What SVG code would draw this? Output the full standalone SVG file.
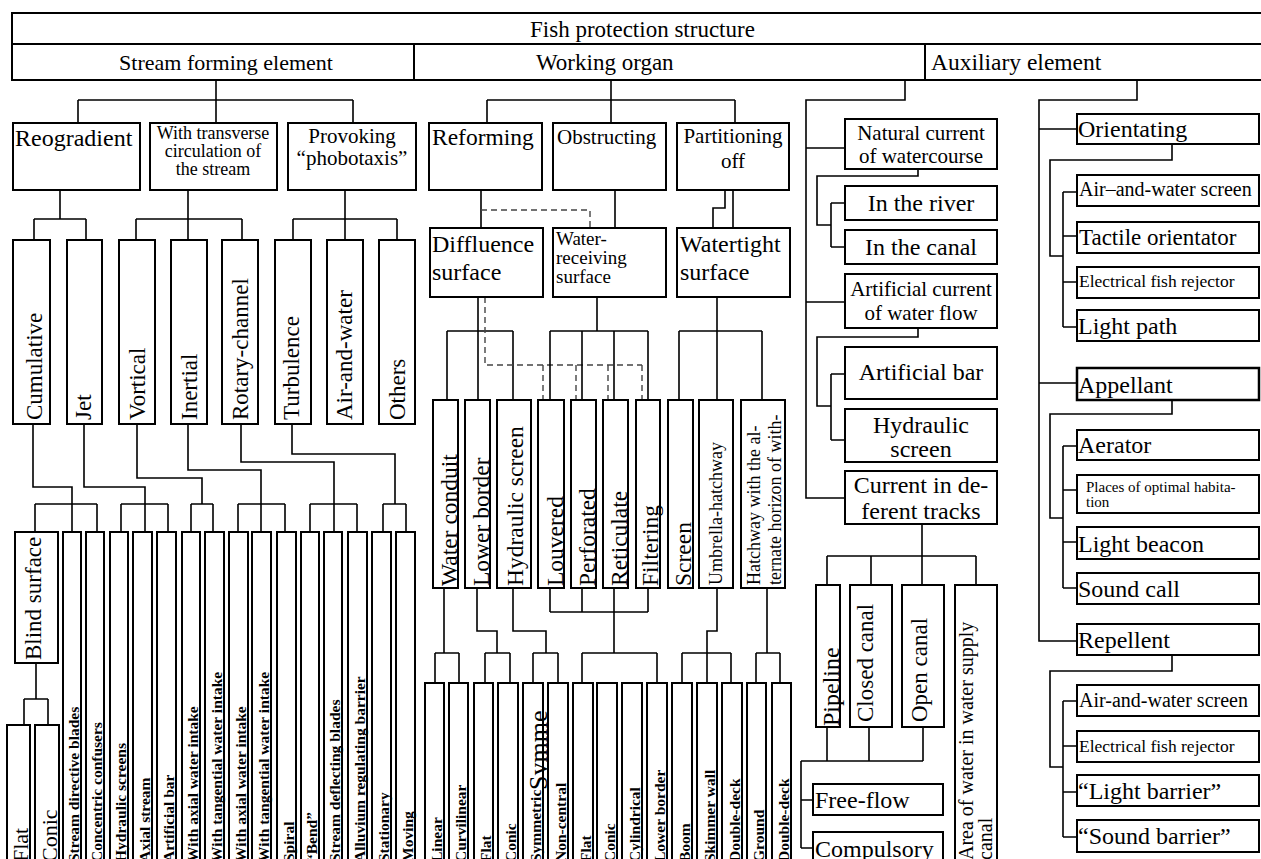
<svg xmlns="http://www.w3.org/2000/svg" width="1261" height="859" viewBox="0 0 1261 859">
<style>
rect{fill:#fff;stroke:#000;stroke-width:2}
.c path{fill:none;stroke:#000;stroke-width:1.6}
.c path.d{stroke:#444;stroke-width:1.4;stroke-dasharray:6 4}
text{font-family:"Liberation Serif","Times New Roman",serif;fill:#000;font-size:23px}
.m{text-anchor:middle}
.b{font-weight:bold;font-size:15.5px}
.s18{font-size:18px}
.s19{font-size:19px}
.s20{font-size:20px}
.s21{font-size:21px}
.s17{font-size:17.5px}
.s15{font-size:15px}
.s24{font-size:24px}
</style>
<defs>
<clipPath id="symclip"><rect x="524" y="683" width="24" height="180"/></clipPath>
</defs>
<rect x="0" y="0" width="1261" height="859" style="fill:#fff;stroke:none"/>

<g class="c" id="connectors">
<path d="M216 80V100M78 100H353M78 100V123M216 100V123M353 100V123"/>
<path d="M60 190V219M34 219H86M34 219V240M86 219V240"/>
<path d="M188 190V219M136 219H242M136 219V240M188 219V240M242 219V240"/>
<path d="M345 190V219M293 219H397M293 219V240M345 219V240M397 219V240"/>
<path d="M33 424V487H72V532M84 424V487H145V532M137 424V478H202V504M188 424V470H261V532M241 424V462H334V532M292 424V454H395V504"/>
<path d="M35 504H97M35 504V532M97 504V532M121 504H168M121 504V532M168 504V532M191 504H213M191 504V532M213 504V532M238 504H285M238 504V532M285 504V532M310 504H357M310 504V532M357 504V532M383 504H406M383 504V532M406 504V532"/>
<path d="M36 663V699M24 699H48M24 699V725M48 699V725"/>
<path d="M611 80V100M487 100H735M487 100V123M611 100V123M735 100V123"/>
<path d="M481 190V228M615 190V228M725 190V208H713V228M733 190V228"/>
<path class="d" d="M481 210H590V228"/>
<path d="M478 297V331M447 331H513M447 331V400M478 331V400M513 331V400"/>
<path class="d" d="M485 297V365H642M543 365V400M576 365V400M608 365V400M642 365V400"/>
<path d="M597 297V331M550 331H648M550 331V400M582 331V400M614 331V400M648 331V400"/>
<path d="M717 297V331M679 331H762M679 331V400M717 331V400M762 331V400"/>
<path d="M444 588V653M435 653H459M435 653V683M459 653V683"/>
<path d="M477 588V631H497V653M485 653H510M485 653V683M510 653V683"/>
<path d="M513 588V631H546V653M533 653H558M533 653V683M558 653V683"/>
<path d="M550 588V612M582 588V612M648 588V612M550 612H648M614 588V653M582 653H657M582 653V683M657 653V683"/>
<path d="M717 588V631H707V653M682 653H731M682 653V683M707 653V683M731 653V683"/>
<path d="M767 588V653M756 653H780M756 653V683M780 653V683"/>
<path d="M905 80V100H806V498H845M806 148H845M806 302H845"/>
<path d="M918 169V176H817V225H831M831 203V247M831 203H845M831 247H845"/>
<path d="M918 328V337H817V406H831M831 374V440M831 374H845M831 440H845"/>
<path d="M922 524V585M827 556H976M827 556V585M871 556V585M976 556V585"/>
<path d="M827 727V761M869 727V761M923 727V761M801 761H923M801 761V848M801 800H813M801 848H813"/>
<path d="M1137 80V100H1039V641H1077M1039 129H1077M1039 383H1077"/>
<path d="M1172 144V160H1050V256H1063M1063 192V327M1063 192H1077M1063 236H1077M1063 282H1077M1063 327H1077"/>
<path d="M1172 400V414H1050V518H1063M1063 446V588M1063 446H1077M1063 490H1077M1063 542H1077M1063 588H1077"/>
<path d="M1172 655V671H1050V767H1063M1063 701V837M1063 701H1077M1063 746H1077M1063 792H1077M1063 837H1077"/>
</g>

<g id="n-root"><rect x="12" y="13" width="1260" height="31"/><text x="530" y="37" style="font-size:23px">Fish protection structure</text></g>
<g id="n-stream"><rect x="12" y="44" width="402" height="36"/><text x="226" y="70" class="m" style="font-size:22px">Stream forming element</text></g>
<g id="n-working"><rect x="414" y="44" width="511" height="36"/><text x="536" y="70" style="font-size:23px">Working organ</text></g>
<g id="n-aux"><rect x="925" y="44" width="340" height="36"/><text x="931" y="70" style="font-size:23.5px">Auxiliary element</text></g>

<g id="n-reogradient"><rect x="13" y="123" width="127" height="67"/><text x="15" y="146" class="s24">Reogradient</text></g>
<g id="n-transverse"><rect x="150" y="123" width="127" height="67"/><text x="213" y="139" class="m s18">With transverse</text><text x="213" y="157" class="m s18">circulation of</text><text x="213" y="175" class="m s18">the stream</text></g>
<g id="n-provoking"><rect x="288" y="123" width="128" height="67"/><text x="352" y="143" class="m s21">Provoking</text><text x="352" y="165" class="m s21">“phobotaxis”</text></g>

<g id="n-cumulative"><rect x="13" y="240" width="37" height="184"/><text x="42" y="420" transform="rotate(-90 42 420)">Cumulative</text></g>
<g id="n-jet"><rect x="67" y="240" width="35" height="184"/><text x="91" y="420" transform="rotate(-90 91 420)">Jet</text></g>
<g id="n-vortical"><rect x="119" y="240" width="36" height="184"/><text x="145" y="420" transform="rotate(-90 145 420)">Vortical</text></g>
<g id="n-inertial"><rect x="171" y="240" width="36" height="184"/><text x="197" y="420" transform="rotate(-90 197 420)">Inertial</text></g>
<g id="n-rotary"><rect x="222" y="240" width="36" height="184"/><text x="248" y="420" transform="rotate(-90 248 420)">Rotary-channel</text></g>
<g id="n-turbulence"><rect x="275" y="240" width="36" height="184"/><text x="299" y="420" transform="rotate(-90 299 420)">Turbulence</text></g>
<g id="n-airwater"><rect x="327" y="240" width="36" height="184"/><text x="352" y="420" transform="rotate(-90 352 420)">Air-and-water</text></g>
<g id="n-others"><rect x="379" y="240" width="36" height="184"/><text x="405" y="420" transform="rotate(-90 405 420)">Others</text></g>

<g id="n-blind"><rect x="15" y="532" width="43" height="131"/><text x="41" y="660" transform="rotate(-90 41 660)">Blind surface</text></g>
<g id="n-flat1"><rect x="7" y="725" width="23" height="150"/><text x="28" y="862" transform="rotate(-90 28 862)" style="font-size:22px">Flat</text></g>
<g id="n-conic1"><rect x="35" y="725" width="24" height="150"/><text x="57" y="862" transform="rotate(-90 57 862)" style="font-size:22px">Conic</text></g>

<g id="n-sdb"><rect x="63" y="532" width="18" height="340"/><text x="79" y="862" class="b" transform="rotate(-90 79 862)">Stream directive blades</text></g>
<g id="n-cc"><rect x="86" y="532" width="18" height="340"/><text x="102" y="862" class="b" transform="rotate(-90 102 862)">Concentric confusers</text></g>
<g id="n-hs"><rect x="110" y="532" width="18" height="340"/><text x="126" y="862" class="b" transform="rotate(-90 126 862)">Hydraulic screens</text></g>
<g id="n-as"><rect x="133" y="532" width="19" height="340"/><text x="150" y="862" class="b" transform="rotate(-90 150 862)">Axial stream</text></g>
<g id="n-ab"><rect x="157" y="532" width="19" height="340"/><text x="174" y="862" class="b" transform="rotate(-90 174 862)">Artificial bar</text></g>
<g id="n-awi1"><rect x="182" y="532" width="18" height="340"/><text x="198" y="862" class="b" transform="rotate(-90 198 862)">With axial water intake</text></g>
<g id="n-twi1"><rect x="205" y="532" width="19" height="340"/><text x="222" y="862" class="b" transform="rotate(-90 222 862)">With tangential water intake</text></g>
<g id="n-awi2"><rect x="229" y="532" width="19" height="340"/><text x="246" y="862" class="b" transform="rotate(-90 246 862)">With axial water intake</text></g>
<g id="n-twi2"><rect x="252" y="532" width="19" height="340"/><text x="269" y="862" class="b" transform="rotate(-90 269 862)">With tangential water intake</text></g>
<g id="n-spiral"><rect x="277" y="532" width="19" height="340"/><text x="294" y="862" class="b" transform="rotate(-90 294 862)">Spiral</text></g>
<g id="n-bend"><rect x="301" y="532" width="18" height="340"/><text x="317" y="862" class="b" transform="rotate(-90 317 862)">“Bend”</text></g>
<g id="n-sdefb"><rect x="324" y="532" width="18" height="340"/><text x="340" y="862" class="b" transform="rotate(-90 340 862)">Stream deflecting blades</text></g>
<g id="n-arb"><rect x="348" y="532" width="19" height="340"/><text x="365" y="862" class="b" transform="rotate(-90 365 862)">Alluvium regulating barrier</text></g>
<g id="n-stat"><rect x="372" y="532" width="19" height="340"/><text x="389" y="862" class="b" transform="rotate(-90 389 862)">Stationary</text></g>
<g id="n-moving"><rect x="396" y="532" width="19" height="340"/><text x="413" y="862" class="b" transform="rotate(-90 413 862)">Moving</text></g>

<g id="n-reforming"><rect x="429" y="123" width="113" height="67"/><text x="432" y="145" style="font-size:23.5px">Reforming</text></g>
<g id="n-obstructing"><rect x="553" y="123" width="113" height="67"/><text x="557" y="144" class="s21">Obstructing</text></g>
<g id="n-partitioning"><rect x="677" y="123" width="112" height="67"/><text x="733" y="143" class="m s21">Partitioning</text><text x="733" y="168" class="m s21">off</text></g>

<g id="n-diffluence"><rect x="430" y="228" width="113" height="69"/><text x="432" y="252" class="s24">Diffluence</text><text x="432" y="280" class="s24">surface</text></g>
<g id="n-waterrec"><rect x="553" y="228" width="113" height="69"/><text x="556" y="245" class="s19">Water-</text><text x="556" y="264" class="s19">receiving</text><text x="556" y="283" class="s19">surface</text></g>
<g id="n-watertight"><rect x="677" y="228" width="113" height="69"/><text x="680" y="252" class="s24">Watertight</text><text x="680" y="280" class="s24">surface</text></g>

<g id="n-wconduit"><rect x="433" y="400" width="25" height="188"/><text x="457" y="586" transform="rotate(-90 457 586)" style="font-size:23.5px">Water conduit</text></g>
<g id="n-lborder"><rect x="465" y="400" width="25" height="188"/><text x="489" y="586" transform="rotate(-90 489 586)" style="font-size:23.5px">Lower border</text></g>
<g id="n-hscreen"><rect x="497" y="400" width="34" height="188"/><text x="523" y="586" transform="rotate(-90 523 586)" style="font-size:23.5px">Hydraulic screen</text></g>
<g id="n-louvered"><rect x="538" y="400" width="26" height="188"/><text x="563" y="586" transform="rotate(-90 563 586)" style="font-size:23.5px">Louvered</text></g>
<g id="n-perforated"><rect x="571" y="400" width="25" height="188"/><text x="595" y="586" transform="rotate(-90 595 586)" style="font-size:23.5px">Perforated</text></g>
<g id="n-reticulate"><rect x="603" y="400" width="25" height="188"/><text x="627" y="586" transform="rotate(-90 627 586)" style="font-size:23.5px">Reticulate</text></g>
<g id="n-filtering"><rect x="636" y="400" width="24" height="188"/><text x="658" y="586" transform="rotate(-90 658 586)" style="font-size:23.5px">Filtering</text></g>
<g id="n-screen"><rect x="668" y="400" width="25" height="188"/><text x="691" y="586" transform="rotate(-90 691 586)" style="font-size:23.5px">Screen</text></g>
<g id="n-umbrella"><rect x="699" y="400" width="34" height="188"/><text x="722" y="585" class="s18" transform="rotate(-90 722 585)">Umbrella-hatchway</text></g>
<g id="n-hatchway"><rect x="741" y="400" width="44" height="188"/><text x="760" y="585" class="s18" transform="rotate(-90 760 585)">Hatchway with the al-</text><text x="781" y="585" class="s18" transform="rotate(-90 781 585)">ternate horizon of with-</text></g>

<g id="n-linear"><rect x="425" y="683" width="19" height="190"/><text x="442" y="862" class="b" transform="rotate(-90 442 862)">Linear</text></g>
<g id="n-curvilinear"><rect x="449" y="683" width="19" height="190"/><text x="466" y="862" class="b" transform="rotate(-90 466 862)">Curvilinear</text></g>
<g id="n-flat2"><rect x="474" y="683" width="19" height="190"/><text x="491" y="862" class="b" transform="rotate(-90 491 862)">Flat</text></g>
<g id="n-conic2"><rect x="498" y="683" width="20" height="190"/><text x="516" y="862" class="b" transform="rotate(-90 516 862)">Conic</text></g>
<g id="n-symmetric"><rect x="523" y="683" width="20" height="190"/><text x="541" y="862" class="b" transform="rotate(-90 541 862)">Symmetric</text><g clip-path="url(#symclip)"><text x="547" y="790" transform="rotate(-90 547 790)" style="font-size:26px">Symme</text></g></g>
<g id="n-noncentral"><rect x="548" y="683" width="20" height="190"/><text x="566" y="862" class="b" transform="rotate(-90 566 862)">Non-central</text></g>
<g id="n-flat3"><rect x="573" y="683" width="20" height="190"/><text x="591" y="862" class="b" transform="rotate(-90 591 862)">Flat</text></g>
<g id="n-conic3"><rect x="597" y="683" width="20" height="190"/><text x="615" y="862" class="b" transform="rotate(-90 615 862)">Conic</text></g>
<g id="n-cylindrical"><rect x="622" y="683" width="20" height="190"/><text x="640" y="862" class="b" transform="rotate(-90 640 862)">Cylindrical</text></g>
<g id="n-lborder2"><rect x="647" y="683" width="20" height="190"/><text x="665" y="862" class="b" transform="rotate(-90 665 862)">Lower border</text></g>
<g id="n-boom"><rect x="672" y="683" width="20" height="190"/><text x="690" y="862" class="b" transform="rotate(-90 690 862)">Boom</text></g>
<g id="n-skimmer"><rect x="697" y="683" width="20" height="190"/><text x="715" y="862" class="b" transform="rotate(-90 715 862)">Skimmer wall</text></g>
<g id="n-ddeck1"><rect x="722" y="683" width="20" height="190"/><text x="740" y="862" class="b" transform="rotate(-90 740 862)">Double-deck</text></g>
<g id="n-ground"><rect x="747" y="683" width="19" height="190"/><text x="764" y="862" class="b" transform="rotate(-90 764 862)">Ground</text></g>
<g id="n-ddeck2"><rect x="772" y="683" width="19" height="190"/><text x="789" y="862" class="b" transform="rotate(-90 789 862)">Double-deck</text></g>

<g id="n-natural"><rect x="845" y="119" width="152" height="50"/><text x="921" y="140" class="m s21">Natural current</text><text x="921" y="163" class="m s21">of watercourse</text></g>
<g id="n-river"><rect x="845" y="186" width="152" height="34"/><text x="921" y="211" class="m s24">In the river</text></g>
<g id="n-canal"><rect x="845" y="230" width="152" height="34"/><text x="921" y="255" class="m s24">In the canal</text></g>
<g id="n-artificial"><rect x="845" y="274" width="152" height="54"/><text x="921" y="296" class="m s21">Artificial current</text><text x="921" y="320" class="m s21">of water flow</text></g>
<g id="n-abar"><rect x="845" y="347" width="152" height="52"/><text x="921" y="380" class="m s24">Artificial bar</text></g>
<g id="n-hydscreen"><rect x="845" y="409" width="152" height="53"/><text x="921" y="433" class="m s24">Hydraulic</text><text x="921" y="457" class="m s24">screen</text></g>
<g id="n-current"><rect x="845" y="471" width="152" height="53"/><text x="921" y="493" class="m s24">Current in de-</text><text x="921" y="519" class="m s24">ferent tracks</text></g>

<g id="n-pipeline"><rect x="816" y="585" width="24" height="142"/><text x="839" y="726" transform="rotate(-90 839 726)" class="s24">Pipeline</text></g>
<g id="n-closed"><rect x="850" y="585" width="42" height="142"/><text x="873" y="722" transform="rotate(-90 873 722)">Closed canal</text></g>
<g id="n-open"><rect x="902" y="585" width="42" height="142"/><text x="927" y="722" transform="rotate(-90 927 722)">Open canal</text></g>
<g id="n-area"><rect x="955" y="585" width="42" height="290"/><text x="973" y="860" transform="rotate(-90 973 860)" class="s20">Area of water in water supply</text><text x="992" y="860" transform="rotate(-90 992 860)" class="s20">canal</text></g>
<g id="n-freeflow"><rect x="813" y="784" width="130" height="31"/><text x="815" y="808" class="s24">Free-flow</text></g>
<g id="n-compulsory"><rect x="813" y="832" width="130" height="40"/><text x="815" y="857" class="s24">Compulsory</text></g>

<g id="n-orientating"><rect x="1077" y="114" width="182" height="30"/><text x="1078" y="137" class="s24">Orientating</text></g>
<g id="n-aws1"><rect x="1077" y="175" width="182" height="31"/><text x="1079" y="196" class="s20">Air–and-water screen</text></g>
<g id="n-tactile"><rect x="1077" y="222" width="182" height="31"/><text x="1079" y="245">Tactile orientator</text></g>
<g id="n-efr1"><rect x="1077" y="267" width="182" height="31"/><text x="1079" y="287" class="s17">Electrical fish rejector</text></g>
<g id="n-lightpath"><rect x="1077" y="310" width="182" height="31"/><text x="1078" y="334" class="s24">Light path</text></g>
<g id="n-appellant"><rect x="1077" y="368" width="182" height="32" style="stroke-width:2.5"/><text x="1078" y="393" class="s24">Appellant</text></g>
<g id="n-aerator"><rect x="1077" y="430" width="182" height="30"/><text x="1078" y="453" class="s24">Aerator</text></g>
<g id="n-places"><rect x="1077" y="475" width="182" height="38"/><text x="1086" y="492" class="s15">Places of optimal habita-</text><text x="1086" y="507" class="s15">tion</text></g>
<g id="n-beacon"><rect x="1077" y="527" width="182" height="32"/><text x="1078" y="552" class="s24">Light beacon</text></g>
<g id="n-soundcall"><rect x="1077" y="573" width="182" height="31"/><text x="1078" y="597" class="s24">Sound call</text></g>
<g id="n-repellent"><rect x="1077" y="624" width="182" height="31"/><text x="1078" y="648" class="s24">Repellent</text></g>
<g id="n-aws2"><rect x="1077" y="685" width="182" height="31"/><text x="1079" y="707" class="s20">Air-and-water screen</text></g>
<g id="n-efr2"><rect x="1077" y="731" width="182" height="31"/><text x="1079" y="752" class="s17">Electrical fish rejector</text></g>
<g id="n-lbarrier"><rect x="1077" y="775" width="182" height="31"/><text x="1078" y="799" class="s24">“Light barrier”</text></g>
<g id="n-sbarrier"><rect x="1077" y="820" width="182" height="32"/><text x="1078" y="844" class="s24">“Sound barrier”</text></g>
</svg>
